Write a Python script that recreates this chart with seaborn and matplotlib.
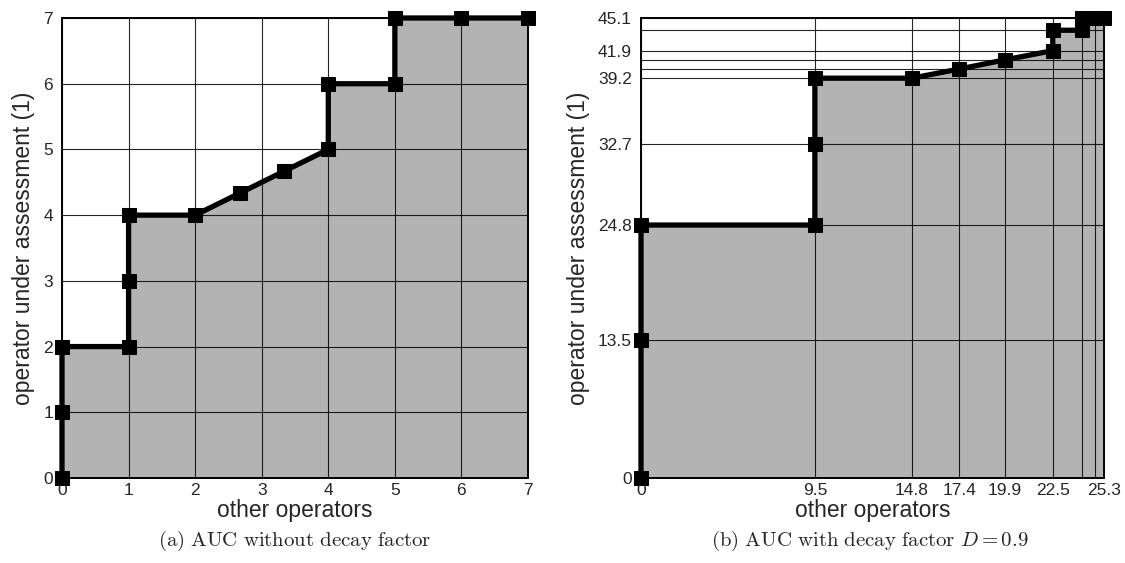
import matplotlib
matplotlib.use("Agg")
import matplotlib.pyplot as plt
import seaborn as sns
import pandas as pd

# ROC-style paths: operator under assessment vs. other operators
plain_x = [0, 0, 0, 1, 1, 1, 2, 2.667, 3.333, 4, 4, 5, 5, 6, 7]
plain_y = [0, 1, 2, 2, 3, 4, 4, 4.333, 4.667, 5, 6, 6, 7, 7, 7]
plain_xticks = [0, 1, 2, 3, 4, 5, 6, 7]
plain_yticks = [0, 1, 2, 3, 4, 5, 6, 7]

decay_x = [0, 0, 0, 9.5, 9.5, 9.5, 14.8, 17.4, 19.9, 22.5, 22.5, 24.1, 24.1, 24.8, 25.3]
decay_y = [0, 13.5, 24.8, 24.8, 32.7, 39.2, 39.2, 40.1, 41.0, 41.9, 43.9, 43.9, 45.1, 45.1, 45.1]
decay_xgrid = [0, 9.5, 14.8, 17.4, 19.9, 22.5, 24.1, 24.8, 25.3]
decay_xlabels = ["0", "9.5", "14.8", "17.4", "19.9", "22.5", "", "", "25.3"]
decay_ygrid = [0, 13.5, 24.8, 32.7, 39.2, 40.1, 41.0, 41.9, 43.9, 45.1]
decay_ylabels = ["0", "13.5", "24.8", "32.7", "39.2", "", "", "41.9", "", "45.1"]

sns.set_style("white")
plt.rcParams["font.family"] = ["Liberation Sans", "DejaVu Sans"]
plt.rcParams["mathtext.fontset"] = "cm"

fig = plt.figure(figsize=(11.25, 5.63), dpi=100)
ax1 = fig.add_axes([62 / 1125, 1 - 478 / 563, 466 / 1125, 460 / 563])
ax2 = fig.add_axes([641 / 1125, 1 - 478 / 563, 463 / 1125, 460 / 563])


def draw(ax, xs, ys, xgrid, xlabels, ygrid, ylabels):
    df = pd.DataFrame({"x": xs, "y": ys})
    ax.fill_between(df["x"], 0, df["y"], color="#b3b3b3", lw=0, zorder=1)
    sns.lineplot(data=df, x="x", y="y", sort=False, estimator=None, ax=ax,
                 color="black", lw=3.8, marker="s", markersize=10,
                 markeredgecolor="black", clip_on=False, zorder=3)
    ax.set_xlim(xgrid[0], xgrid[-1])
    ax.set_ylim(ygrid[0], ygrid[-1])
    ax.set_xticks(xgrid)
    ax.set_xticklabels(xlabels)
    ax.set_yticks(ygrid)
    ax.set_yticklabels(ylabels)
    ax.set_axisbelow("line")
    ax.grid(True, color="black", lw=0.8, alpha=0.85)
    ax.tick_params(axis="x", length=0, labelsize=12.5, pad=3.5)
    ax.tick_params(axis="y", length=0, labelsize=12.5, pad=6.5)
    for s in ax.spines.values():
        s.set_visible(True)
        s.set_color("black")
        s.set_linewidth(1.4)
    ax.set_xlabel("other operators", fontsize=16.5, labelpad=1)
    ax.set_ylabel("operator under assessment (1)", fontsize=16.5, labelpad=6)


draw(ax1, plain_x, plain_y, plain_xticks, [str(v) for v in plain_xticks],
     plain_yticks, [str(v) for v in plain_yticks])
draw(ax2, decay_x, decay_y, decay_xgrid, decay_xlabels, decay_ygrid, decay_ylabels)

fig.text(295 / 1125, 1 - 541 / 563, r"$\mathrm{(a)\ AUC\ without\ decay\ factor}$",
         ha="center", va="center", fontsize=15)
fig.text(870 / 1125, 1 - 541 / 563, r"$\mathrm{(b)\ AUC\ with\ decay\ factor\ }D = 0.9$",
         ha="center", va="center", fontsize=15)

fig.savefig("out.png", dpi=100)
